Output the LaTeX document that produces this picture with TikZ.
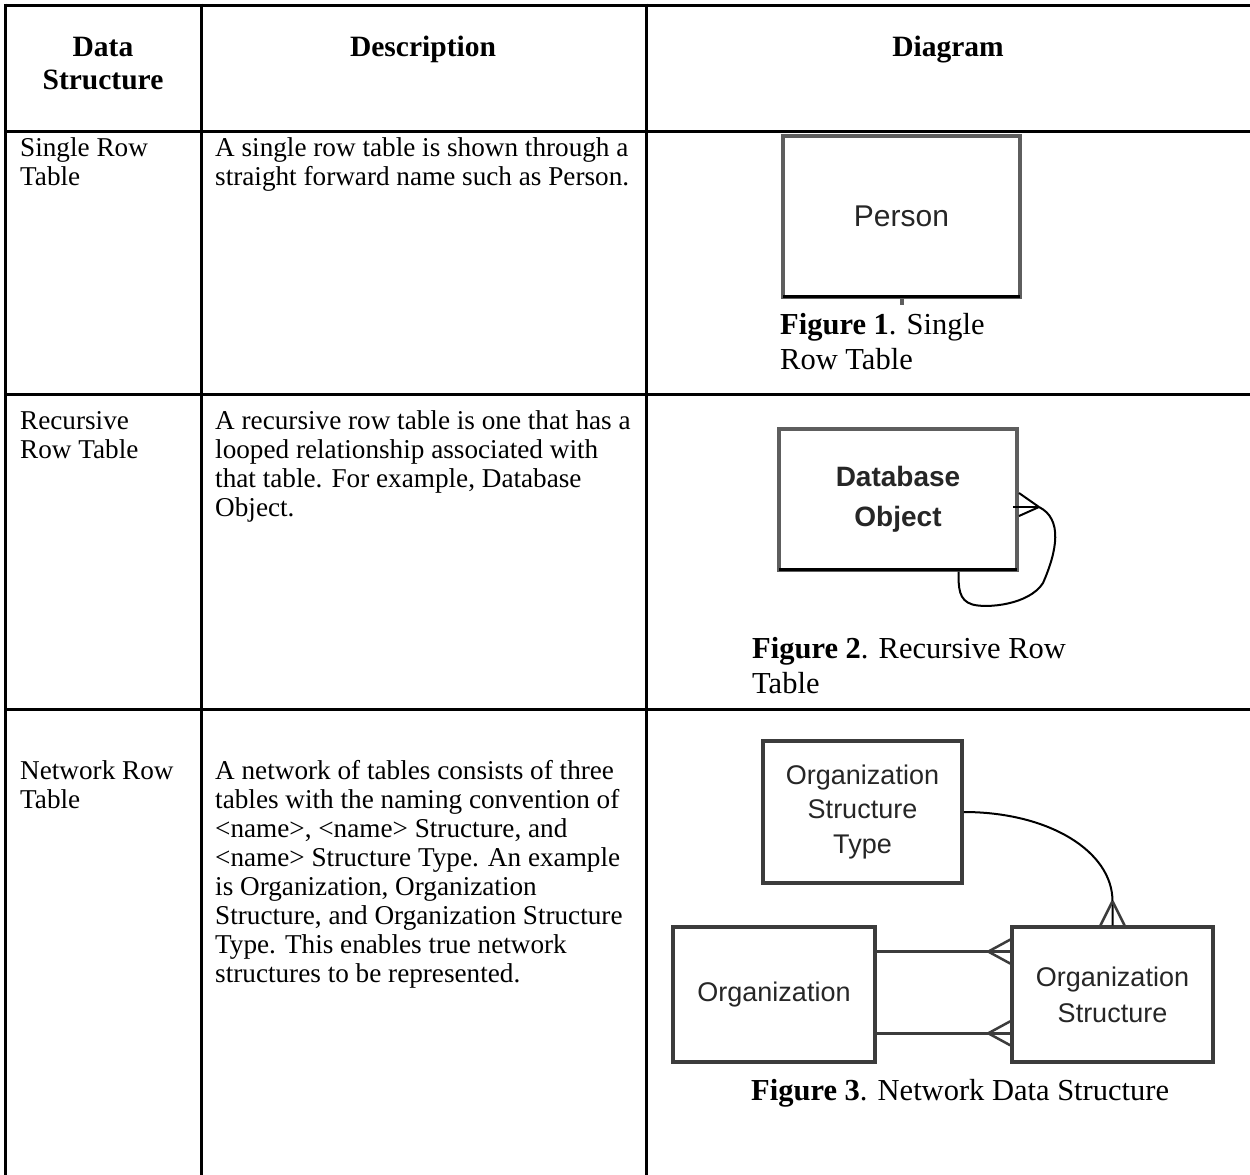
\documentclass[tikz,border=0pt]{standalone}
\usepackage{fontspec}
\setmainfont{Liberation Serif}
\newfontfamily\arial{Liberation Sans}
\usetikzlibrary{calc}
\definecolor{boxgray}{HTML}{5E5E5E}
\definecolor{erline}{HTML}{3C3C3C}
\definecolor{ertext}{HTML}{262626}

\begin{document}
\begin{tikzpicture}[x=1pt,y=-1pt,
  rule/.style={line width=3pt,black},
  % multi-line nodes are placed by the baseline of their last line
  headtext/.style={anchor=base,inner sep=0pt,align=center,font=\fontsize{29.5}{33}\selectfont\bfseries},
  celltext/.style={anchor=base west,inner sep=0pt,align=left,font=\fontsize{27.2}{29}\selectfont},
  captext/.style={anchor=base west,inner sep=0pt,align=left,font=\fontsize{30.5}{35}\selectfont},
  entity/.style={draw=boxgray,line width=4pt,inner sep=0pt,align=center,text=ertext},
  erbox/.style={draw=erline,line width=3.5pt,inner sep=0pt,align=center,text=ertext,
    font=\arial\fontsize{27}{35}\selectfont},
  link/.style={draw=erline,line width=3pt},
  loopline/.style={draw=black,line width=2pt},
]
\useasboundingbox[fill=white] (0,0) rectangle (1250,1175);

% ---- table rules ----
\draw[rule] (5,5) -- (1250,5);
\draw[rule] (5,131) -- (1250,131);
\draw[rule] (5,394) -- (1250,394);
\draw[rule] (5,709) -- (1250,709);
\draw[rule] (5,3.5) -- (5,1175);
\draw[rule] (201,3.5) -- (201,1175);
\draw[rule] (646,3.5) -- (646,1175);

% ---- header ----
\node[headtext] (hds) at (103,89) {Data\\Structure};
\node[headtext] (hdesc) at (423,56) {Description};
\node[headtext] (hdiag) at (948,56) {Diagram};

% ---- row 1 ----
\node[celltext] (n1) at (20,185) {Single Row\\Table};
\node[celltext] (d1) at (215,185) {A single row table is shown through a\\straight forward name such as Person.};
\node[entity,minimum width=237pt,minimum height=161pt,font=\arial\fontsize{30}{36}\selectfont] (person) at (901.5,216) {Person};
\draw[black,line width=3.5pt] ($(person.south west)+(2,-2)$) -- ($(person.south east)+(-2,-2)$);
\draw[boxgray,line width=4pt] (person.south) -- ++(0,6);
\node[captext] (c1) at (780,369) {\textbf{Figure 1}. Single\\Row Table};

% ---- row 2 ----
\node[celltext] (n2) at (20,458) {Recursive\\Row Table};
\node[celltext] (d2) at (215,516) {A recursive row table is one that has a\\looped relationship associated with\\that table. For example, Database\\Object.};
\node[entity,minimum width=238pt,minimum height=141pt,font=\arial\bfseries\fontsize{28}{40}\selectfont] (dbo) at (898,499) {Database\\Object};
\draw[black,line width=3.5pt] ($(dbo.south west)+(2,-2)$) -- ($(dbo.south east)+(-2,-2)$);
% self relationship: crow's foot on the right side, loop back into the bottom
\coordinate (dbtip) at ($(dbo.east)+(20,8)$);
\coordinate (dbend) at ($(dbo.south west)!0.75!(dbo.south east)$);
\draw[loopline] (dbtip) -- ($(dbo.east)+(-6,8)$);
\draw[loopline] (dbtip) -- ($(dbo.east)+(0,-6)$);
\draw[loopline] (dbtip) -- ($(dbo.east)+(0,17)$);
\draw[loopline] (dbtip) .. controls +(24,12) and +(14,-32) .. ($(dbtip)+(4,76)$)
  .. controls +(-14,22) and +(14,4) .. ($(dbend)+(14,33)$)
  .. controls +(-14,-4) and +(0,16) .. (dbend);
\node[captext] (c2) at (752,693) {\textbf{Figure 2}. Recursive Row\\Table};

% ---- row 3 ----
\node[celltext] (n3) at (20,808) {Network Row\\Table};
\node[celltext] (d3) at (215,982) {A network of tables consists of three\\tables with the naming convention of\\<name>, <name> Structure, and\\<name> Structure Type. An example\\is Organization, Organization\\Structure, and Organization Structure\\Type. This enables true network\\structures to be represented.};

\node[erbox,minimum width=199pt,minimum height=142pt,font=\arial\fontsize{27}{34.5}\selectfont] (ost) at (862.5,812) {Organization\\Structure\\Type};
\node[erbox,minimum width=202pt,minimum height=135pt] (org) at (774,994.5) {Organization};
\node[erbox,minimum width=201pt,minimum height=135pt,font=\arial\fontsize{27}{36}\selectfont] (ors) at (1112.5,994.5) {Organization\\Structure};

% two relationships Organization -> Organization Structure
\coordinate (a1) at ($(org.north east)!0.19!(org.south east)$);
\coordinate (b1) at ($(ors.north west)!0.19!(ors.south west)$);
\coordinate (a2) at ($(org.north east)!0.78!(org.south east)$);
\coordinate (b2) at ($(ors.north west)!0.78!(ors.south west)$);
\draw[link] (a1) -- (b1);
\draw[link] (a2) -- (b2);
\foreach \p in {b1,b2}{
  \draw[link,line width=2.5pt] ($(\p)+(-22,0)$) -- ($(\p)+(0,-12)$)
                               ($(\p)+(-22,0)$) -- ($(\p)+(0,12)$);
}
% relationship Organization Structure Type -> Organization Structure
\coordinate (b3) at (ors.north);
\coordinate (t3) at ($(b3)+(0,-24)$);
\draw[black,line width=2pt] (ost.east) .. controls +(85,0) and +(0,-50) .. (t3) -- (b3);
\draw[link,line width=2.5pt] (t3) -- ($(b3)+(-12,0)$) (t3) -- ($(b3)+(12,0)$);

\node[captext] (c3) at (751,1100) {\textbf{Figure 3}. Network Data Structure};
\end{tikzpicture}
\end{document}
